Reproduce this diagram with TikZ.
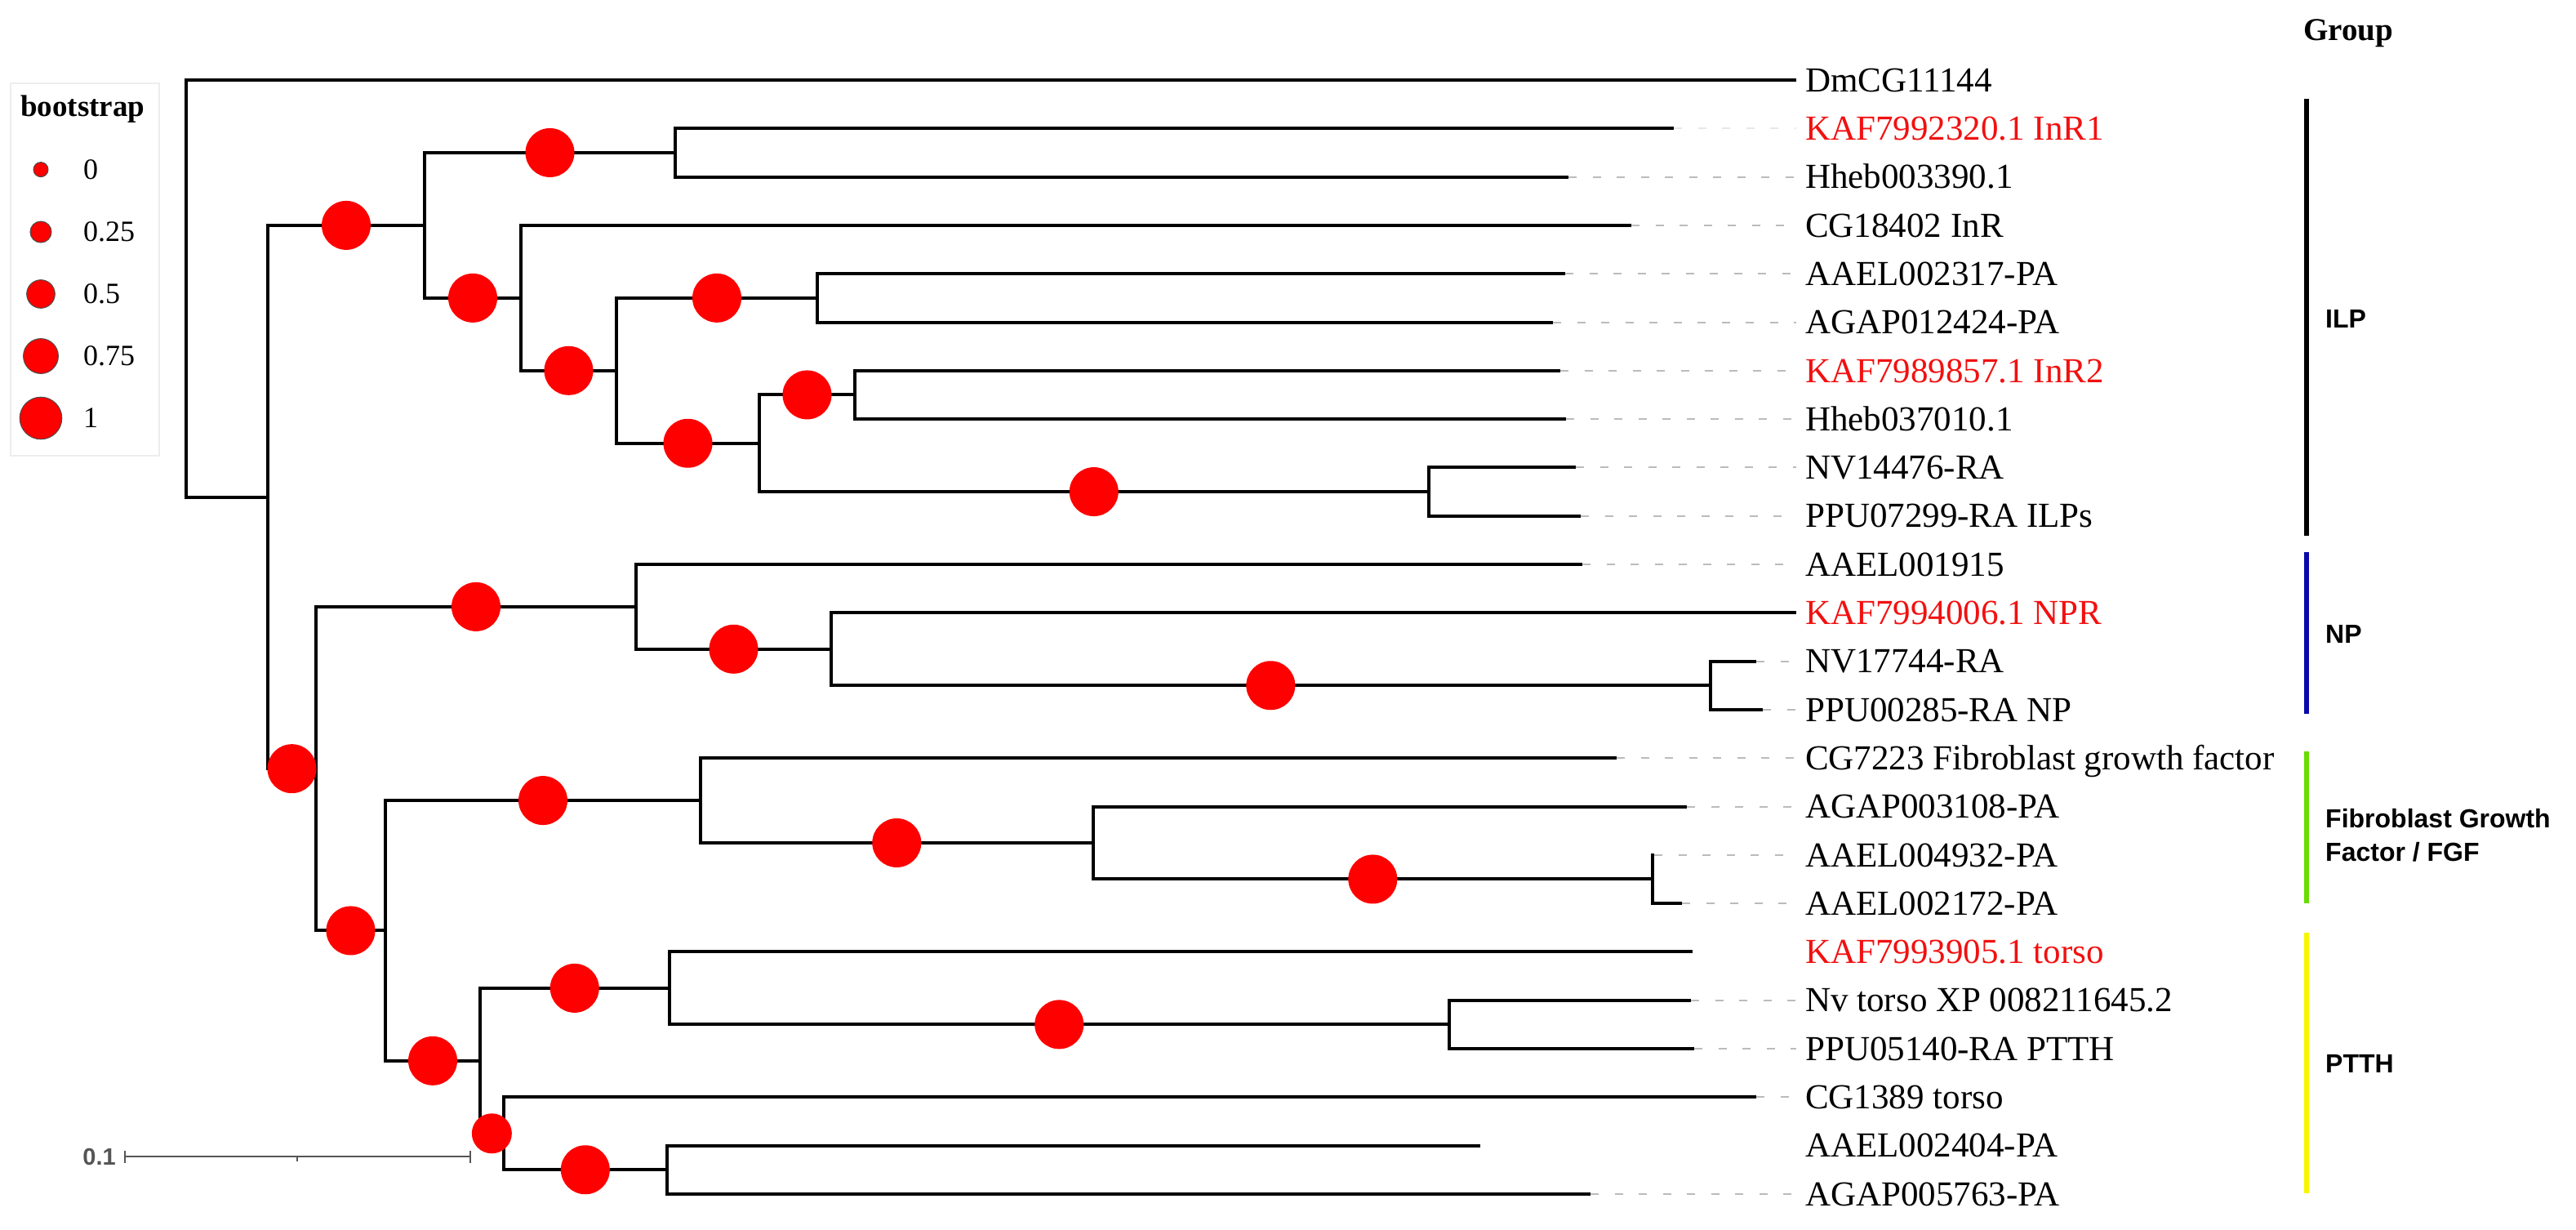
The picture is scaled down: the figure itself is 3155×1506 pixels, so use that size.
\documentclass[tikz,border=0pt]{standalone}
\usepackage{fontspec}
\setmainfont{Liberation Serif}
\newfontfamily\grpfont{Liberation Sans}
\usetikzlibrary{calc}
\definecolor{bootred}{HTML}{FF0000}
\definecolor{labred}{HTML}{F21010}
\definecolor{npblue}{HTML}{0A0AAA}
\definecolor{fgfgreen}{HTML}{66DD00}
\definecolor{ptthyellow}{HTML}{F6F600}
\definecolor{dashgray}{HTML}{BBBBBB}
\definecolor{barcol}{HTML}{555555}
\begin{document}
\begin{tikzpicture}[x=1pt,y=-1pt,
  branch/.style={line width=4pt, line join=miter},
  guide/.style={dashgray, line width=2pt, dash pattern=on 10pt off 19.5pt, shorten >=11pt},
  faintguide/.style={guide, dashgray!35},
  boot/.style={circle, fill=bootred, inner sep=0pt, minimum size=60pt},
  bootsmall/.style={boot, minimum size=49pt},
  leaflab/.style={anchor=west, inner sep=0pt, font=\fontsize{43}{50}\selectfont, text height=28.5pt, text depth=0pt},
  grplab/.style={anchor=west, inner sep=0pt, font=\grpfont\bfseries\fontsize{32}{38}\selectfont, text height=23pt, text depth=0pt},
  grpbar/.style={line width=5.5pt},
  legcirc/.style={circle, fill=bootred, draw=black!70, line width=1pt, inner sep=0pt},
  leglab/.style={anchor=west, inner sep=0pt, font=\fontsize{36}{42}\selectfont, text height=23.8pt, text depth=0pt},
  scalebar/.style={barcol, line width=2pt}
]
\fill[white] (0,0) rectangle (3155,1506);
\useasboundingbox (0,0) rectangle (3155,1506);

% internal nodes
\coordinate (root) at (228,353.27);
\coordinate (nA) at (328,608.54);
\coordinate (nB) at (520,275.9);
\coordinate (nD) at (827,186.95);
\coordinate (nE) at (638,364.85);
\coordinate (nF) at (755,453.8);
\coordinate (nG) at (1001,364.85);
\coordinate (nH) at (930,542.75);
\coordinate (nI) at (1047,483.45);
\coordinate (nJ) at (1749.5,602.05);
\coordinate (nC) at (387,941.17);
\coordinate (nK) at (779,742.89);
\coordinate (nM) at (1018,794.78);
\coordinate (nN) at (2094.6,839.25);
\coordinate (nL) at (472,1139.46);
\coordinate (nO) at (858,980.09);
\coordinate (nQ) at (1338.6,1031.98);
\coordinate (nR) at (2024,1076.45);
\coordinate (nP) at (588,1298.83);
\coordinate (nS) at (819.5,1209.88);
\coordinate (nU) at (1775,1254.35);
\coordinate (nT) at (616.7,1387.78);
\coordinate (nV) at (817,1432.25);

% leaf tips
\coordinate (l0) at (2200,98);
\coordinate (l1) at (2050,157.3);
\coordinate (l2) at (1921,216.6);
\coordinate (l3) at (1998,275.9);
\coordinate (l4) at (1917,335.2);
\coordinate (l5) at (1902,394.5);
\coordinate (l6) at (1911,453.8);
\coordinate (l7) at (1918,513.1);
\coordinate (l8) at (1930,572.4);
\coordinate (l9) at (1936,631.7);
\coordinate (l10) at (1938,691);
\coordinate (l11) at (2200,750.3);
\coordinate (l12) at (2151,809.6);
\coordinate (l13) at (2159,868.9);
\coordinate (l14) at (1980,928.2);
\coordinate (l15) at (2066,987.5);
\coordinate (l16) at (2026,1046.8);
\coordinate (l17) at (2060,1106.1);
\coordinate (l18) at (2073,1165.4);
\coordinate (l19) at (2071,1224.7);
\coordinate (l20) at (2075,1284);
\coordinate (l21) at (2151,1343.3);
\coordinate (l22) at (1813,1402.6);
\coordinate (l23) at (1948,1461.9);

% branches
\foreach \p/\c in {root/l0, root/nA, nA/nB, nA/nC, nB/nD, nB/nE, nD/l1, nD/l2,
  nE/l3, nE/nF, nF/nG, nF/nH, nG/l4, nG/l5, nH/nI, nH/nJ, nI/l6, nI/l7,
  nJ/l8, nJ/l9, nC/nK, nC/nL, nK/l10, nK/nM, nM/l11, nM/nN, nN/l12, nN/l13,
  nL/nO, nL/nP, nO/l14, nO/nQ, nQ/l15, nQ/nR, nR/l16, nR/l17,
  nP/nS, nP/nT, nS/l18, nS/nU, nU/l19, nU/l20, nT/l21, nT/nV, nV/l22, nV/l23}
  \draw[branch] (\p) |- (\c);

% bootstrap circles at branch midpoints
\foreach \p/\c in {nA/nB, nB/nD, nB/nE, nE/nF, nF/nG, nF/nH, nH/nI, nH/nJ,
  nA/nC, nC/nK, nK/nM, nM/nN, nC/nL, nL/nO, nO/nQ, nQ/nR, nL/nP, nP/nS, nS/nU, nT/nV}
  \node[boot] (b\p\c) at ($(\p |- \c)!0.5!(\c)$) {};
\node[bootsmall] (bnPnT) at ($(nP |- nT)!0.5!(nT)$) {};

% leaf labels
\node[leaflab] (t0) at (2211,98) {DmCG11144};
\node[leaflab, text=labred] (t1) at (2211,157.3) {KAF7992320.1 InR1};
\node[leaflab] (t2) at (2211,216.6) {Hheb003390.1};
\node[leaflab] (t3) at (2211,275.9) {CG18402 InR};
\node[leaflab] (t4) at (2211,335.2) {AAEL002317-PA};
\node[leaflab] (t5) at (2211,394.5) {AGAP012424-PA};
\node[leaflab, text=labred] (t6) at (2211,453.8) {KAF7989857.1 InR2};
\node[leaflab] (t7) at (2211,513.1) {Hheb037010.1};
\node[leaflab] (t8) at (2211,572.4) {NV14476-RA};
\node[leaflab] (t9) at (2211,631.7) {PPU07299-RA ILPs};
\node[leaflab] (t10) at (2211,691) {AAEL001915};
\node[leaflab, text=labred] (t11) at (2211,750.3) {KAF7994006.1 NPR};
\node[leaflab] (t12) at (2211,809.6) {NV17744-RA};
\node[leaflab] (t13) at (2211,868.9) {PPU00285-RA NP};
\node[leaflab] (t14) at (2211,928.2) {CG7223 Fibroblast growth factor};
\node[leaflab] (t15) at (2211,987.5) {AGAP003108-PA};
\node[leaflab] (t16) at (2211,1046.8) {AAEL004932-PA};
\node[leaflab] (t17) at (2211,1106.1) {AAEL002172-PA};
\node[leaflab, text=labred] (t18) at (2211,1165.4) {KAF7993905.1 torso};
\node[leaflab] (t19) at (2211,1224.7) {Nv torso XP 008211645.2};
\node[leaflab] (t20) at (2211,1284) {PPU05140-RA PTTH};
\node[leaflab] (t21) at (2211,1343.3) {CG1389 torso};
\node[leaflab] (t22) at (2211,1402.6) {AAEL002404-PA};
\node[leaflab] (t23) at (2211,1461.9) {AGAP005763-PA};

% dashed guides from tips to labels
\draw[faintguide] (l1) -- (t1.west);
\foreach \i in {2,3,4,5,6,7,8,9,10,12,13,14,15,16,17,19,20,21,23}
  \draw[guide] (l\i) -- (t\i.west);

% group header and bars
\node[anchor=west, inner sep=0pt, font=\bfseries\fontsize{39}{45}\selectfont, text height=25.8pt, text depth=0pt] (grouphead) at (2821,37) {Group};
\coordinate (gILPa) at (2825,121);   \coordinate (gILPb) at (2825,656);
\coordinate (gNPa) at (2825,676);    \coordinate (gNPb) at (2825,874);
\coordinate (gFGFa) at (2825,920);   \coordinate (gFGFb) at (2825,1106);
\coordinate (gPTa) at (2825,1142);   \coordinate (gPTb) at (2825,1461);
\draw[grpbar, black] (gILPa) -- (gILPb);
\draw[grpbar, npblue] (gNPa) -- (gNPb);
\draw[grpbar, fgfgreen] (gFGFa) -- (gFGFb);
\draw[grpbar, ptthyellow] (gPTa) -- (gPTb);
\node[grplab] (gILP) at (2848,390) {ILP};
\node[grplab] (gNP) at (2848,776) {NP};
\node[grplab] (gFGF1) at (2848,1002) {Fibroblast Growth};
\node[grplab] (gFGF2) at (2848,1043) {Factor / FGF};
\node[grplab] (gPTTH) at (2848,1302) {PTTH};

% legend
\draw[black!7, line width=1.5pt] (13,102) rectangle (195,558);
\node[anchor=base west, inner sep=0pt, font=\bfseries\fontsize{37}{44}\selectfont] (legtitle) at (25,143) {bootstrap};
\node[legcirc, minimum size=18pt] (lc0) at (50,207.6) {};
\node[legcirc, minimum size=26pt] (lc1) at (50,284) {};
\node[legcirc, minimum size=34.6pt] (lc2) at (50,360) {};
\node[legcirc, minimum size=42.8pt] (lc3) at (50,436) {};
\node[legcirc, minimum size=51.6pt] (lc4) at (50,512) {};
\node[leglab] (ll0) at (102,207.6) {0};
\node[leglab] (ll1) at (102,284) {0.25};
\node[leglab] (ll2) at (102,360) {0.5};
\node[leglab] (ll3) at (102,436) {0.75};
\node[leglab] (ll4) at (102,512) {1};

% scale bar
\coordinate (sbl) at (153,1416);
\coordinate (sbr) at (576,1416);
\coordinate (sbm) at (364,1416);
\draw[scalebar] (sbl) -- (sbr);
\draw[scalebar] ($(sbl)+(0,-7)$) -- ($(sbl)+(0,8)$);
\draw[scalebar] ($(sbr)+(0,-7)$) -- ($(sbr)+(0,8)$);
\draw[scalebar] (sbm) -- ($(sbm)+(0,6)$);
\node[anchor=east, inner sep=0pt, text=barcol, font=\grpfont\bfseries\fontsize{29}{34}\selectfont, text height=21pt, text depth=0pt] (sblab) at (142,1416) {0.1};
\end{tikzpicture}
\end{document}
